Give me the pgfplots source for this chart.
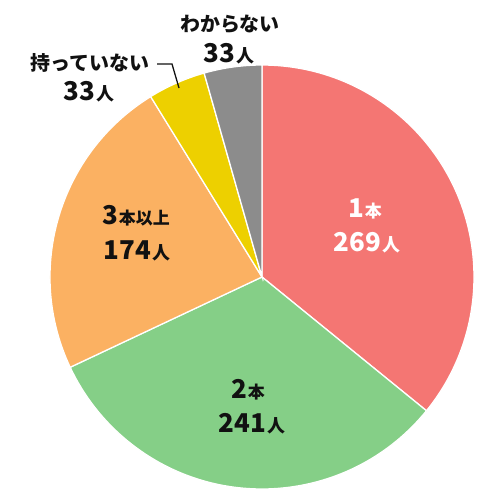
\documentclass[border=0pt]{standalone}
\usepackage{fontspec}
\usepackage{pgfplots}
\pgfplotsset{compat=1.18}
\setmainfont{Noto Sans CJK JP}[BoldFont={Noto Sans CJK JP Black}]

\definecolor{cOne}{HTML}{F47673}
\definecolor{cTwo}{HTML}{85CF87}
\definecolor{cThree}{HTML}{FBB162}
\definecolor{cNone}{HTML}{EDD000}
\definecolor{cUnk}{HTML}{8C8C8C}
\definecolor{txt}{HTML}{111111}

% total 269+241+174+33+33 = 750 -> 0.48 degrees per person
% start at 12 o'clock, clockwise; #1 cumulative before, #2 value, #3 colour
\newcommand\slice[3]{%
  \fill[#3, draw=white, line width=1.3pt]
    (axis cs:262,223) -- ++({90-0.48*#1}:212bp)
    arc[start angle={90-0.48*#1}, end angle={90-0.48*(#1+#2)}, radius=212bp]
    -- cycle;}
\newcommand\num[4]{{\fontsize{#3}{#3}\selectfont\bfseries #1}\kern1pt{\fontsize{#4}{#4}\selectfont\bfseries #2}}

\begin{document}
\begin{tikzpicture}
\begin{axis}[width=500bp, height=500bp, scale only axis, at={(0,0)}, anchor=south west,
  xmin=0, xmax=500, ymin=0, ymax=500, hide axis, clip=false]
  \slice{0}{269}{cOne}
  \slice{269}{241}{cTwo}
  \slice{510}{174}{cThree}
  \slice{684}{33}{cNone}
  \slice{717}{33}{cUnk}

  \node[white, inner sep=0, anchor=base] at (axis cs:365,283) {\num{1}{本}{26}{17}};
  \node[white, inner sep=0, anchor=base] at (axis cs:367,249) {\num{269}{人}{26}{18}};

  \node[txt, inner sep=0, anchor=base] at (axis cs:248,102) {\num{2}{本}{26}{17}};
  \node[txt, inner sep=0, anchor=base] at (axis cs:252,68) {\num{241}{人}{26}{18}};

  \node[txt, inner sep=0, anchor=base] at (axis cs:136,276) {\num{3}{本以上}{26}{17}};
  \node[txt, inner sep=0, anchor=base] at (axis cs:137,241) {\num{174}{人}{26}{18}};

  \node[txt, inner sep=0] at (axis cs:230,476) {\fontsize{20}{20}\selectfont\bfseries わからない};
  \node[txt, inner sep=0, anchor=base] at (axis cs:229,438) {\num{33}{人}{26}{18}};

  \node[txt, inner sep=0] at (axis cs:90,437) {\fontsize{20}{20}\selectfont\bfseries 持っていない};
  \node[txt, inner sep=0, anchor=base] at (axis cs:89,400) {\num{33}{人}{26}{18}};
  \draw[txt, line width=1.3pt] (axis cs:157,436) -- (axis cs:172,436) -- (axis cs:179,412);
\end{axis}
\pgfresetboundingbox
\path (0,0) rectangle (500bp,500bp);
\end{tikzpicture}
\end{document}
